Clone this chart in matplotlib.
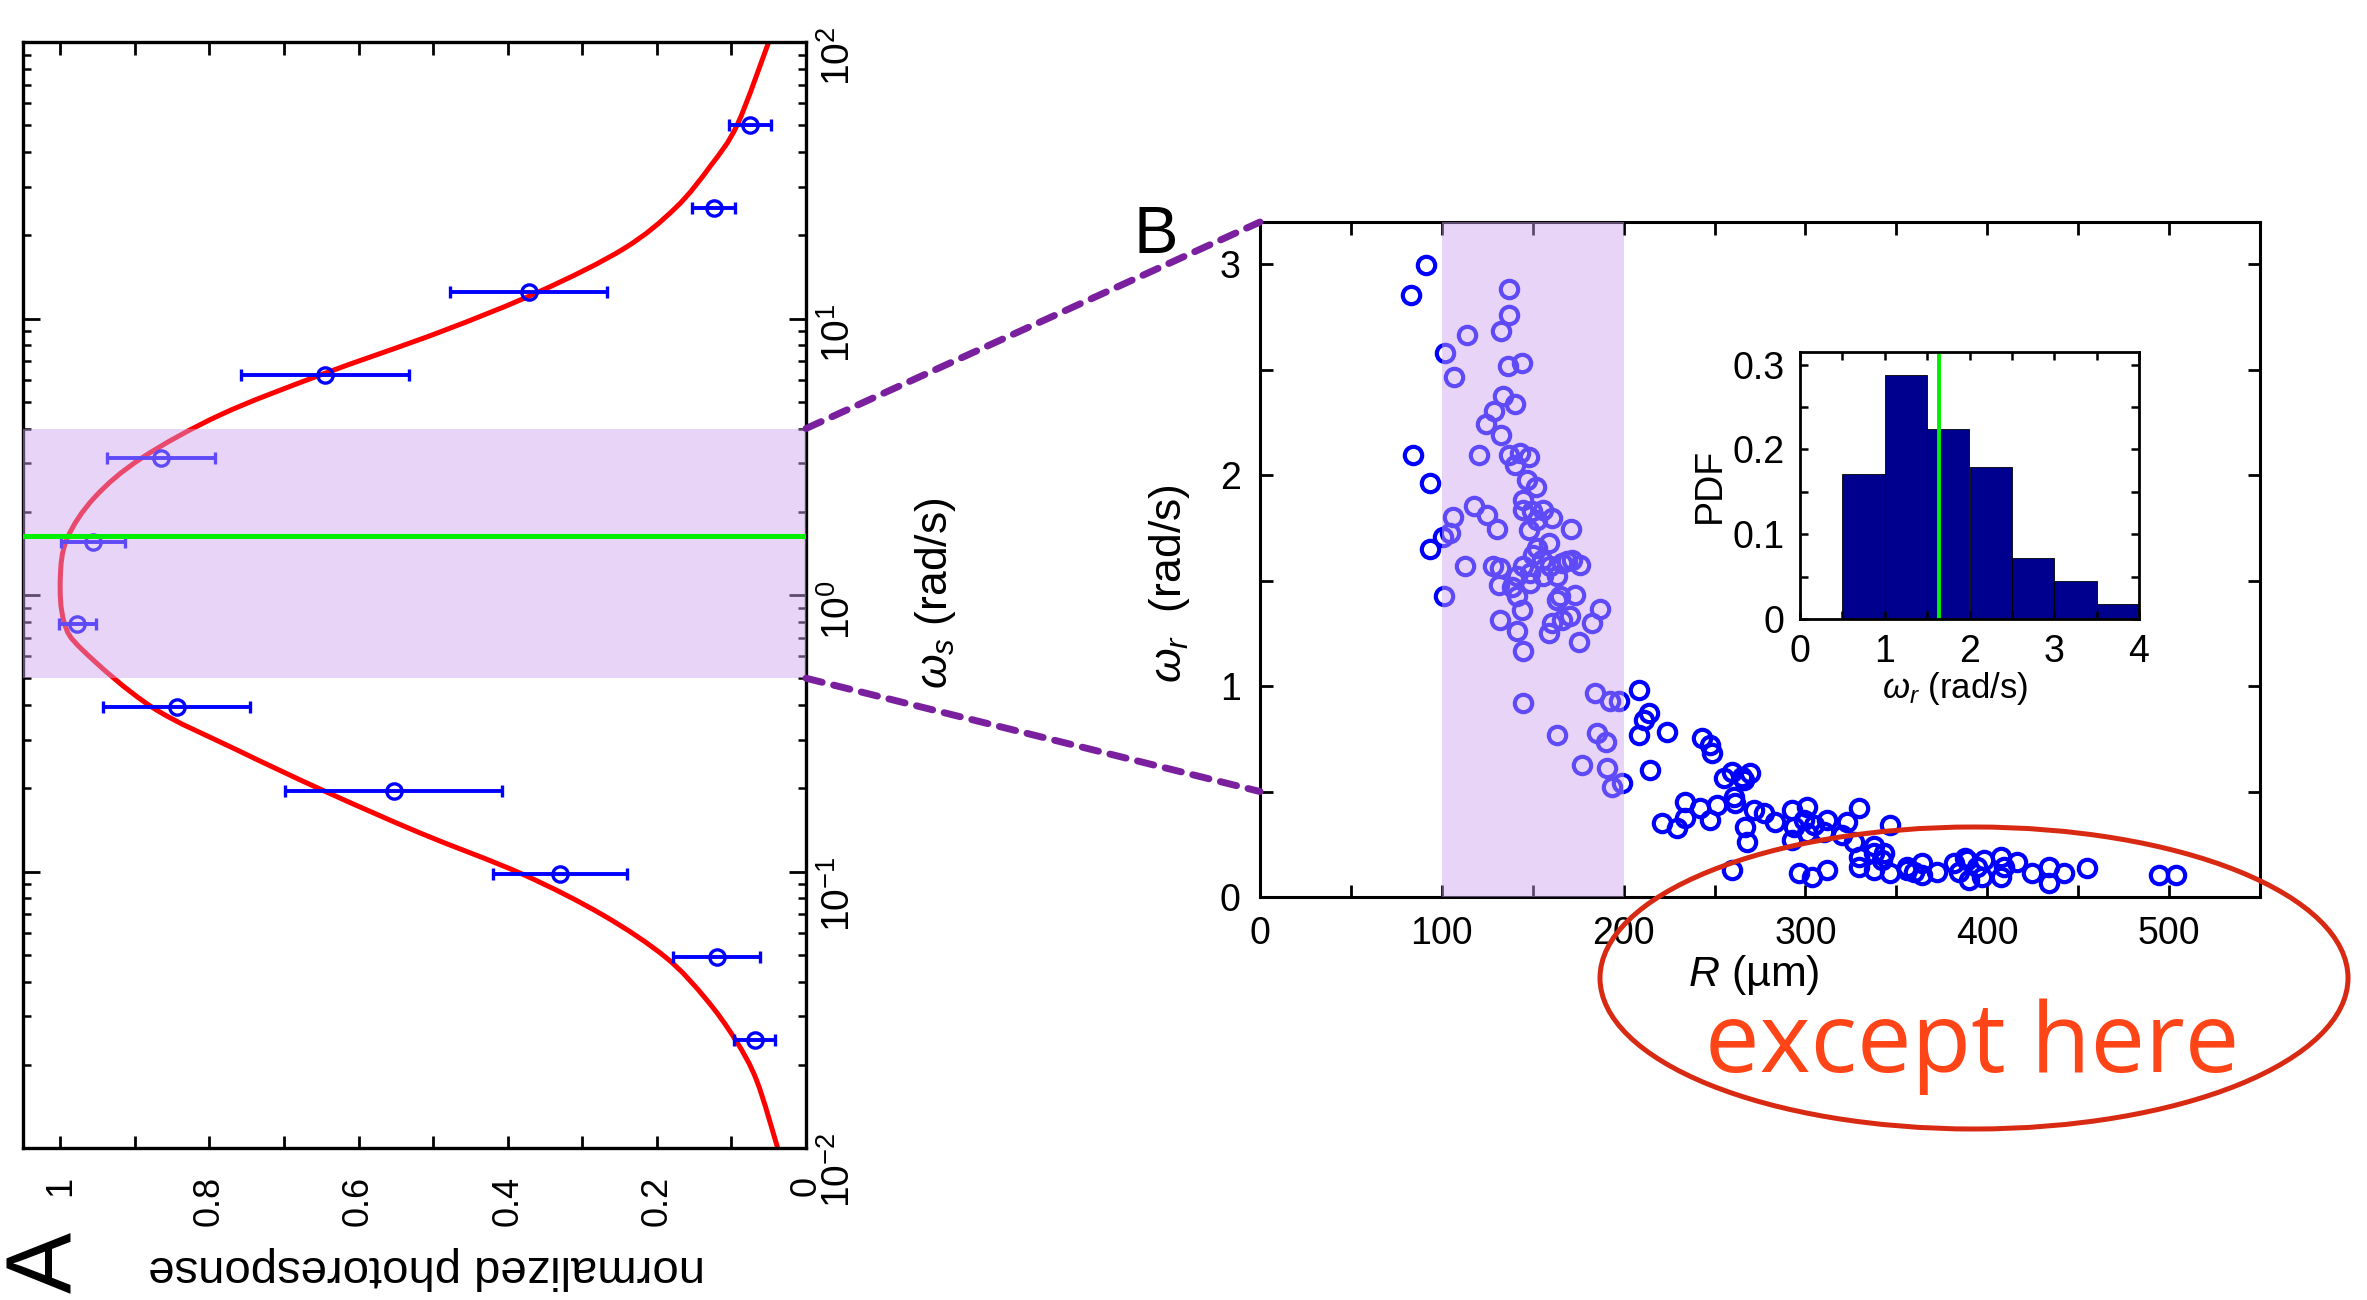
import numpy as np
import matplotlib
matplotlib.use("Agg")
import matplotlib.pyplot as plt
from matplotlib import font_manager as fm
from matplotlib.patches import ConnectionPatch, Ellipse, PathPatch
from matplotlib.path import Path
from matplotlib.ticker import FixedLocator, NullFormatter, LogLocator

# ---------------- data ----------------
# Panel A: photoresponse vs stimulus frequency
omega_s = [0.0246, 0.0489, 0.098, 0.195, 0.394, 0.785, 1.56, 3.13, 6.25, 12.5, 25.1, 50.3]
response = [0.069, 0.120, 0.330, 0.553, 0.844, 0.977, 0.956, 0.865, 0.645, 0.372, 0.124, 0.075]
response_err = [0.027, 0.058, 0.090, 0.146, 0.099, 0.025, 0.043, 0.072, 0.113, 0.105, 0.029, 0.028]

# fitted tuning curve, sampled along its length
fit_omega = [0.01, 0.0175, 0.0247, 0.0348, 0.0489, 0.0695, 0.098, 0.138, 0.195, 0.276,
             0.393, 0.632, 0.80, 1.148, 1.596, 2.254, 3.126, 4.487, 6.237, 8.954,
             12.53, 17.91, 25.12, 35.65, 50.35, 100.0]
fit_response = [0.038, 0.066, 0.095, 0.135, 0.188, 0.272, 0.381, 0.518, 0.645, 0.764,
                0.877, 0.970, 0.995, 1.000, 0.991, 0.954, 0.891, 0.785, 0.652, 0.490,
                0.357, 0.244, 0.175, 0.128, 0.092, 0.050]

band_omega = [0.5, 4.0]
omega_mean = 1.64

# Panel B: resonance frequency vs radius
R_um = [91.2, 83.1, 136.7, 136.7, 132.5, 113.7, 101.8, 144.0, 136.3, 106.9,
        133.4, 140.3, 128.9, 124.4, 132.5, 120.7, 136.7, 143.1, 148.0, 140.3,
        84.0, 93.6, 146.8, 151.9, 117.9, 125.1, 130.6, 106.0, 104.6, 100.9,
        93.6, 144.9, 144.9, 149.5, 155.9, 160.5, 152.3, 147.7, 171.0, 112.8,
        128.4, 132.1, 131.2, 101.0, 152.3, 158.7, 150.4, 155.0, 144.9, 159.6,
        148.6, 141.3, 163.3, 168.8, 171.5, 176.1, 166.0, 148.6, 138.5, 141.3,
        144.0, 165.1, 173.4, 163.3, 187.1, 182.5, 170.6, 166.0, 160.5, 158.7,
        175.2, 132.1, 141.3, 144.6, 155.9,
        144.4, 163.3, 185.3, 190.4, 177.0, 190.8, 193.6, 199.0, 184.4, 192.6, 197.2,
        208.6, 213.7, 211.0, 208.2, 223.8, 214.6, 243.1, 247.7, 248.6, 255.0,
        259.6, 265.1, 269.7, 266.0, 233.9, 221.1, 229.3, 233.9, 242.2, 247.7,
        251.3, 260.5, 261.4, 266.9, 267.9, 259.6, 271.5, 277.0, 283.4, 292.6,
        300.9, 293.5, 299.0, 304.5, 292.6, 300.9, 311.9, 310.0, 320.1, 322.9,
        329.3, 326.5, 329.3, 337.6, 342.2, 346.7, 343.0, 329.3, 337.6, 346.7,
        296.3, 303.6, 311.9, 355.9, 359.6, 337.7, 388.0,
        355.9, 364.2, 364.2, 372.4, 381.6, 384.4, 389.0, 389.9, 394.4, 398.1,
        397.2, 407.3, 407.3, 409.1, 416.5, 424.8, 433.9, 433.9, 442.1, 455.0,
        494.4, 503.6]
omega_r = [2.995, 2.856, 2.883, 2.758, 2.682, 2.663, 2.579, 2.532, 2.516, 2.464,
           2.373, 2.339, 2.302, 2.242, 2.192, 2.094, 2.094, 2.104, 2.086, 2.049,
           2.094, 1.962, 1.978, 1.946, 1.852, 1.812, 1.744, 1.801, 1.725, 1.709,
           1.651, 1.883, 1.836, 1.828, 1.836, 1.797, 1.788, 1.741, 1.746, 1.570,
           1.567, 1.559, 1.480, 1.428, 1.654, 1.677, 1.622, 1.599, 1.567, 1.567,
           1.536, 1.520, 1.520, 1.591, 1.599, 1.575, 1.583, 1.488, 1.472, 1.425,
           1.361, 1.428, 1.433, 1.409, 1.365, 1.298, 1.330, 1.314, 1.298, 1.251,
           1.211, 1.311, 1.259, 1.167, 1.520,
           0.919, 0.768, 0.776, 0.737, 0.626, 0.610, 0.523, 0.539, 0.966, 0.927, 0.927,
           0.982, 0.871, 0.840, 0.768, 0.784, 0.602, 0.753, 0.721, 0.682, 0.563,
           0.594, 0.571, 0.587, 0.555, 0.452, 0.353, 0.326, 0.373, 0.421, 0.365,
           0.436, 0.476, 0.444, 0.334, 0.262, 0.128, 0.413, 0.397, 0.357, 0.413,
           0.428, 0.334, 0.365, 0.342, 0.270, 0.302, 0.365, 0.310, 0.294, 0.357,
           0.421, 0.262, 0.191, 0.207, 0.176, 0.342, 0.207, 0.144, 0.128, 0.112,
           0.112, 0.096, 0.128, 0.144, 0.120, 0.243, 0.186,
           0.128, 0.159, 0.104, 0.120, 0.159, 0.120, 0.176, 0.081, 0.144, 0.176,
           0.096, 0.191, 0.096, 0.144, 0.167, 0.112, 0.144, 0.065, 0.112, 0.136,
           0.104, 0.104]
band_R = [100, 200]

# Inset: distribution of omega_r inside the band
bin_left = [0.5, 1.0, 1.5, 2.0, 2.5, 3.0, 3.5]
pdf = [0.171, 0.2875, 0.2245, 0.179, 0.072, 0.0444, 0.0177]

# ---------------- style ----------------
def has_font(name):
    try:
        fm.findfont(fm.FontProperties(family=name), fallback_to_default=False)
        return True
    except Exception:
        return False

BASE = "Liberation Sans Narrow" if has_font("Liberation Sans Narrow") else "Liberation Sans"
plt.rcParams["font.family"] = [BASE, "Liberation Sans", "DejaVu Sans"]
plt.rcParams["mathtext.fontset"] = "custom"
plt.rcParams["mathtext.rm"] = BASE
plt.rcParams["mathtext.it"] = BASE + ":italic"
plt.rcParams["mathtext.bf"] = BASE + ":bold"
plt.rcParams["axes.unicode_minus"] = True

BAND_COLOR = (206 / 255, 163 / 255, 239 / 255)
BAND_ALPHA = 0.46
GREEN = "#00EE00"
PURPLE = "#7A1F9E"

W, H = 2367, 1300
fig = plt.figure(figsize=(W / 100, H / 100), dpi=100)
fig.patch.set_facecolor("white")

def box(l, t, r, b):
    return [l / W, 1 - b / H, (r - l) / W, (b - t) / H]

def smooth_path(x, y_log):
    """Cubic Bezier path through the given points (Catmull-Rom tangents),
    built in (x, log10 y) space and returned in data coordinates."""
    p = np.column_stack([x, np.log10(y_log)])
    verts = [p[0]]
    codes = [Path.MOVETO]
    n = len(p)
    for i in range(n - 1):
        p0 = p[i - 1] if i > 0 else p[i]
        p1, p2 = p[i], p[i + 1]
        p3 = p[i + 2] if i + 2 < n else p[i + 1]
        verts += [p1 + (p2 - p0) / 6, p2 - (p3 - p1) / 6, p2]
        codes += [Path.CURVE4] * 3
    v = np.array(verts)
    v[:, 1] = 10 ** v[:, 1]
    return Path(v, codes)

# ---------------- panel A (rotated layout) ----------------
axA = fig.add_axes(box(23, 42, 806, 1148))
axA.set_yscale("log")
axA.set_ylim(1e-2, 1e2)
axA.set_xlim(1.05, 0)

axA.add_patch(PathPatch(smooth_path(fit_response, fit_omega), fill=False,
                        edgecolor="red", lw=3.6, zorder=2, capstyle="round"))
axA.errorbar(response, omega_s, xerr=response_err, fmt="o", ms=11, mfc="none",
             mec="blue", mew=2.4, color="blue", elinewidth=2.8, capsize=4.5,
             capthick=2.8, zorder=3)
axA.axhspan(band_omega[0], band_omega[1], color=BAND_COLOR, alpha=BAND_ALPHA, lw=0, zorder=4)
axA.axhline(omega_mean, color=GREEN, lw=3.6, zorder=5)

axA.set_xticks([0, 0.2, 0.4, 0.6, 0.8, 1.0], ["0", "0.2", "0.4", "0.6", "0.8", "1"])
axA.xaxis.set_minor_locator(FixedLocator([0.1, 0.3, 0.5, 0.7, 0.9]))
axA.yaxis.set_major_locator(LogLocator(base=10, numticks=10))
axA.yaxis.set_minor_locator(LogLocator(base=10, subs=range(2, 10), numticks=20))
axA.yaxis.set_minor_formatter(NullFormatter())
axA.tick_params(axis="x", which="both", direction="in", length=9, width=2,
                top=True, bottom=True, labelsize=26, labelrotation=90, pad=20)
axA.tick_params(axis="y", which="major", direction="in", length=12, width=2,
                left=True, right=True, labelleft=False, labelright=True,
                labelsize=28, labelrotation=90, pad=10)
axA.tick_params(axis="y", which="minor", direction="in", length=6, width=1.8,
                left=True, right=True)
for s in axA.spines.values():
    s.set_linewidth(2.4)

axA.set_xlabel("normalized photoresponse", fontsize=34, rotation=180)
axA.xaxis.set_label_coords(0.516, -0.1085)
axA.xaxis.label.set_va("center")
axA.yaxis.set_label_position("right")
axA.set_ylabel(r"$\omega_s$ (rad/s)", fontsize=32, rotation=90)
axA.yaxis.set_label_coords(1.166, 0.502)
axA.yaxis.label.set_va("center")

# ---------------- panel B ----------------
axB = fig.add_axes(box(1260, 222, 2260, 897))
axB.plot(R_um, omega_r, "o", ms=12.5, mfc="none", mec="blue", mew=3.0, ls="none", zorder=2)
axB.axvspan(band_R[0], band_R[1], color=BAND_COLOR, alpha=BAND_ALPHA, lw=0, zorder=3)
axB.set_xlim(0, 550)
axB.set_ylim(0, 3.2)
axB.set_xticks([0, 100, 200, 300, 400, 500])
axB.xaxis.set_minor_locator(FixedLocator([50, 150, 250, 350, 450]))
axB.set_yticks([0, 1, 2, 3])
axB.yaxis.set_minor_locator(FixedLocator([0.5, 1.5, 2.5]))
axB.tick_params(which="both", direction="in", length=9, width=2, top=True, right=True,
                labelsize=27, pad=14)
for s in axB.spines.values():
    s.set_linewidth(2.2)
axB.set_xlabel(r"$R$ (µm)", fontsize=31)
axB.xaxis.set_label_coords(0.494, -0.116)
axB.xaxis.label.set_va("center")
axB.set_ylabel(r"$\omega_r$  (rad/s)", fontsize=32)
axB.yaxis.set_label_coords(-0.09, 0.464)
axB.yaxis.label.set_va("center")

# ---------------- inset histogram ----------------
axI = fig.add_axes(box(1800, 352, 2139, 619))
axI.bar(bin_left, pdf, width=0.5, align="edge", color="#00008F", edgecolor="black", lw=0.6)
axI.axvline(omega_mean, color=GREEN, lw=2.8)
axI.set_xlim(0, 4)
axI.set_ylim(0, 0.315)
axI.set_xticks([0, 1, 2, 3, 4])
axI.xaxis.set_minor_locator(FixedLocator([0.5, 1.5, 2.5, 3.5]))
axI.set_yticks([0, 0.1, 0.2, 0.3], ["0", "0.1", "0.2", "0.3"])
axI.yaxis.set_minor_locator(FixedLocator([0.05, 0.15, 0.25]))
axI.tick_params(which="both", direction="in", length=6, width=1.8, top=True, right=True,
                labelsize=27, pad=11)
for s in axI.spines.values():
    s.set_linewidth(2.0)
axI.set_xlabel(r"$\omega_r$ (rad/s)", fontsize=25)
axI.xaxis.set_label_coords(0.457, -0.262)
axI.xaxis.label.set_va("center")
axI.set_ylabel("PDF", fontsize=27)
axI.yaxis.set_label_coords(-0.265, 0.50)
axI.yaxis.label.set_va("center")

# ---------------- zoom connectors ----------------
for ya, yb in [(band_omega[1], 3.2), (band_omega[0], band_omega[0])]:
    con = ConnectionPatch(xyA=(0, ya), coordsA=axA.transData,
                          xyB=(0, yb), coordsB=axB.transData,
                          color=PURPLE, lw=5, linestyle=(0, (2.4, 1.7)), zorder=6)
    fig.add_artist(con)

# ---------------- panel letters ----------------
fig.text(48 / W, 1 - 1262 / H, "A", rotation=90, fontsize=66, ha="center", va="center",
         family=["Liberation Sans", "DejaVu Sans"])
fig.text(1156 / W, 1 - 236 / H, "B", fontsize=48, ha="center", va="center",
         family=["Liberation Sans", "DejaVu Sans"])

# ---------------- annotation ----------------
fig.add_artist(Ellipse((1974 / W, 1 - 978 / H), 748 / W, 302 / H, transform=fig.transFigure,
                       facecolor="none", edgecolor="#D82A12", lw=3.6, zorder=10))
fig.text(1972 / W, 1 - 1072 / H, "except here", fontsize=70, color="#FF4518",
         ha="center", va="baseline", family=["Open Sans", "Lato", "DejaVu Sans"], zorder=11)

fig.savefig("out.png", dpi=100)
